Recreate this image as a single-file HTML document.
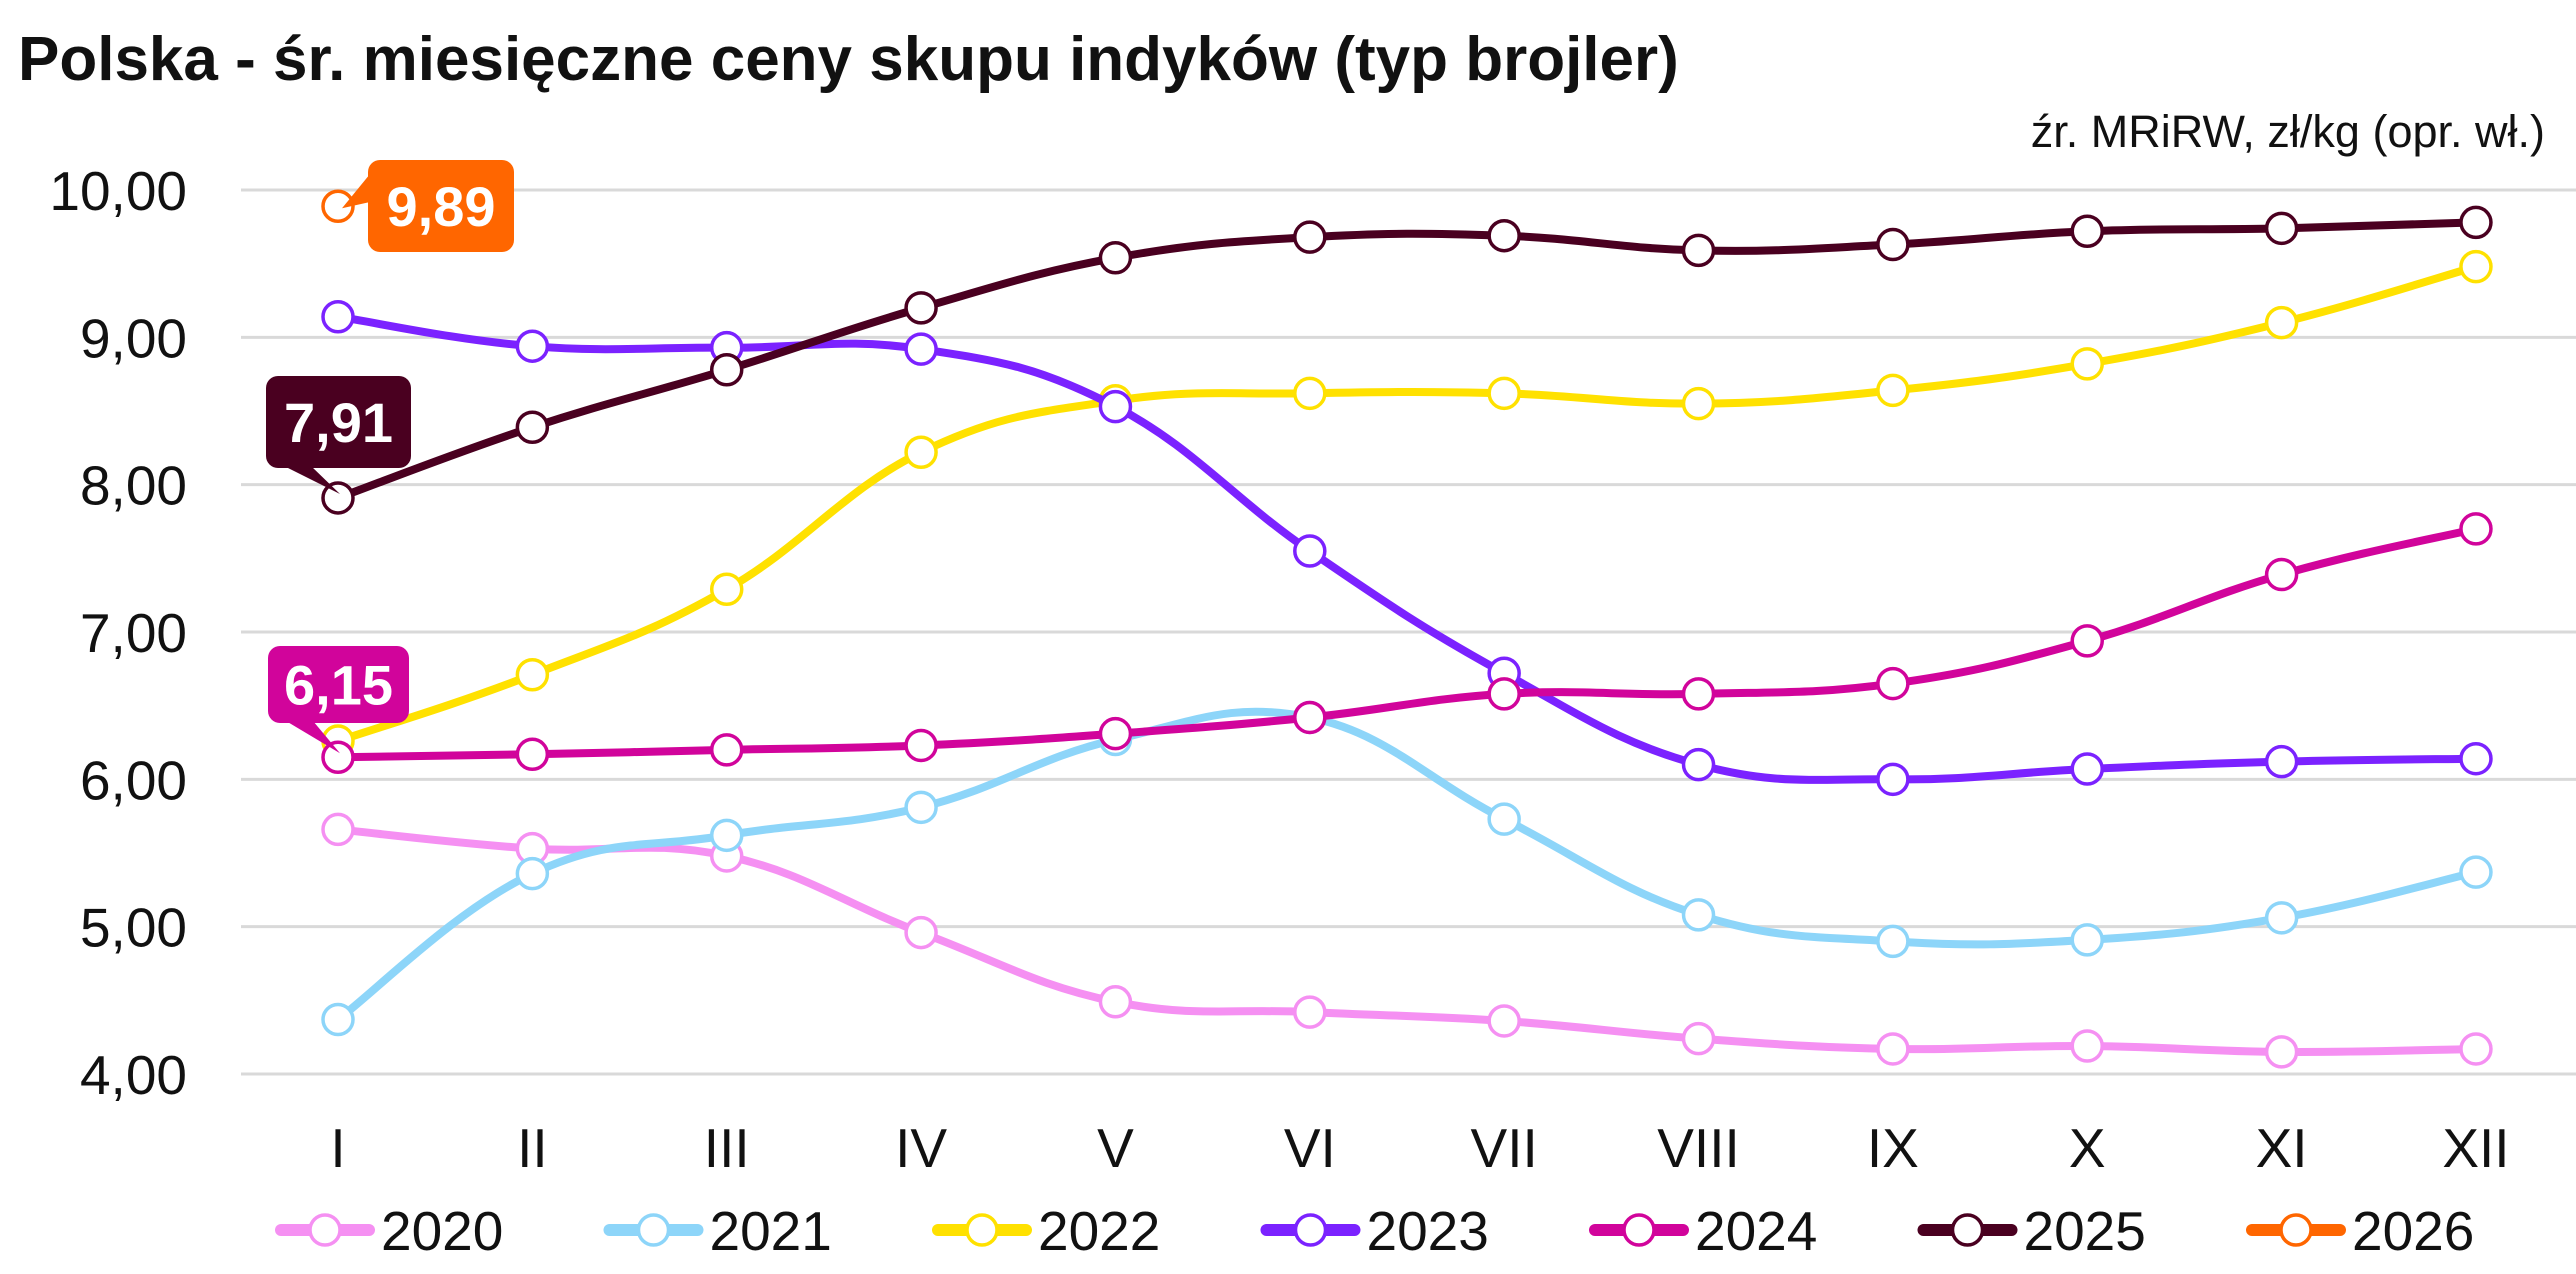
<!DOCTYPE html>
<html><head><meta charset="utf-8"><style>
html,body{margin:0;padding:0;background:#fff;}
svg{display:block;font-family:"Liberation Sans",sans-serif;}
</style></head><body>
<svg id="chart" width="2576" height="1274" viewBox="0 0 2576 1274" xmlns="http://www.w3.org/2000/svg">
<text x="18" y="80" font-size="62" font-weight="bold" fill="#111">Polska - śr. miesięczne ceny skupu indyków (typ brojler)</text>
<text x="2545" y="147" font-size="45" fill="#111" text-anchor="end">źr. MRiRW, zł/kg (opr. wł.)</text>
<g id="grid"></g><g id="ylab"></g><g id="xlab"></g><g id="series"></g><g id="callouts"></g><g id="legend"></g>
</svg>
<script>
const months=["I","II","III","IV","V","VI","VII","VIII","IX","X","XI","XII"];
const yTicks=[4,5,6,7,8,9,10];
const yTickLabels=["4,00","5,00","6,00","7,00","8,00","9,00","10,00"];
const years=["2020","2021","2022","2023","2024","2025","2026"];
const colors=["#f590f2","#8dd5f9","#ffe100","#7b22ff","#d1049b","#4a0020","#ff6600"];
const s2020=[5.66,5.53,5.48,4.96,4.49,4.42,4.36,4.24,4.17,4.19,4.15,4.17];
const s2021=[4.37,5.36,5.62,5.81,6.27,6.42,5.73,5.08,4.90,4.91,5.06,5.37];
const s2022=[6.26,6.71,7.29,8.22,8.57,8.62,8.62,8.55,8.64,8.82,9.10,9.48];
const s2023=[9.14,8.94,8.93,8.92,8.53,7.55,6.72,6.10,6.00,6.07,6.12,6.14];
const s2024=[6.15,6.17,6.20,6.23,6.31,6.42,6.58,6.58,6.65,6.94,7.39,7.70];
const s2025=[7.91,8.39,8.78,9.20,9.54,9.68,9.69,9.59,9.63,9.72,9.74,9.78];
const s2026=[9.89];
const callValues=[9.89,7.91,6.15];
const callLabels=["9,89","7,91","6,15"];
const allSeries=[s2020,s2021,s2022,s2023,s2024,s2025,s2026];
const NS="http://www.w3.org/2000/svg";
const X=i=>338+i*194.36;
const Y=v=>1074-(v-4)*147.33;
function mk(tag,attrs,parent){const e=document.createElementNS(NS,tag);for(const k in attrs)e.setAttribute(k,attrs[k]);parent.appendChild(e);return e;}
const g=document.getElementById('grid'),yl=document.getElementById('ylab'),xl=document.getElementById('xlab');
yTicks.forEach((t,i)=>{
 const l=mk('line',{x1:241,x2:2576,y1:Y(t),y2:Y(t),stroke:'#d9d9d9','stroke-width':3},g);
 
 
 const tx=mk('text',{x:187,y:Y(t)+20,'font-size':55,'text-anchor':'end',fill:'#111'},yl);
 tx.textContent=yTickLabels[i];
 
 
});
months.forEach((m,i)=>{
 const tx=mk('text',{x:X(i),y:1167,'font-size':55,'text-anchor':'middle',fill:'#111'},xl);
 tx.textContent=m;
 
 
});
function smooth(pts){
 if(pts.length<2)return '';
 let d='M'+pts[0][0]+','+pts[0][1];
 for(let i=0;i<pts.length-1;i++){
  const p0=pts[i-1]||pts[i],p1=pts[i],p2=pts[i+1],p3=pts[i+2]||p2,t=0.2;
  d+=' C'+(p1[0]+(p2[0]-p0[0])*t)+','+(p1[1]+(p2[1]-p0[1])*t)+' '+(p2[0]-(p3[0]-p1[0])*t)+','+(p2[1]-(p3[1]-p1[1])*t)+' '+p2[0]+','+p2[1];
 }
 return d;
}
const sg=document.getElementById('series');
allSeries.forEach((s,k)=>{
 const gr=mk('g',{},sg);
 
 
 const pts=s.map((v,i)=>[X(i),Y(v)]);
 const p=mk('path',{d:smooth(pts),fill:'none',stroke:colors[k],'stroke-width':8,'stroke-linecap':'round'},gr);
 
 
 pts.forEach(pt=>{
  const c=mk('circle',{cx:pt[0],cy:pt[1],r:15,fill:'#fff',stroke:colors[k],'stroke-width':3.5},gr);
  
  
 });
});
const cg=document.getElementById('callouts');
const callColors=["#ff6600","#4a0020","#d1049b"];
const boxes=[{x:368,y:160,w:146,h:92,tail:'right'},{x:266,y:376,w:145,h:92,tail:'down'},{x:268,y:646,w:141,h:77,tail:'down'}];
callValues.forEach((v,i)=>{
 const b=boxes[i],px=X(0),py=Y(v);
 const gr=mk('g',{},cg);
 
 
 mk('rect',{x:b.x,y:b.y,width:b.w,height:b.h,rx:12,fill:callColors[i]},gr);
 let tri;
 if(b.tail==='right')tri=(b.x+2)+','+(b.y+14)+' '+(px+4)+','+(py+2)+' '+(b.x+2)+','+(b.y+42);
 else tri=(b.x+18)+','+(b.y+b.h-2)+' '+(px+2)+','+(py-4)+' '+(b.x+45)+','+(b.y+b.h-2);
 mk('polygon',{points:tri,fill:callColors[i]},gr);
 const t=mk('text',{x:b.x+b.w/2,y:b.y+b.h/2+20,'font-size':56,'font-weight':'bold','text-anchor':'middle',fill:'#fff'},gr);
 t.textContent=callLabels[i];
});
const lg=document.getElementById('legend');
years.forEach((yr,k)=>{
 const x0=277+k*328.5,cy=1230;
 const gr=mk('g',{},lg);
 
 
 mk('line',{x1:x0+4,x2:x0+92,y1:cy,y2:cy,stroke:colors[k],'stroke-width':12,'stroke-linecap':'round'},gr);
 mk('circle',{cx:x0+48,cy:cy,r:15,fill:'#fff',stroke:colors[k],'stroke-width':3.5},gr);
 const t=mk('text',{x:x0+104,y:cy+20,'font-size':55,fill:'#111'},gr);
 t.textContent=yr;
});
</script>
</body></html>
